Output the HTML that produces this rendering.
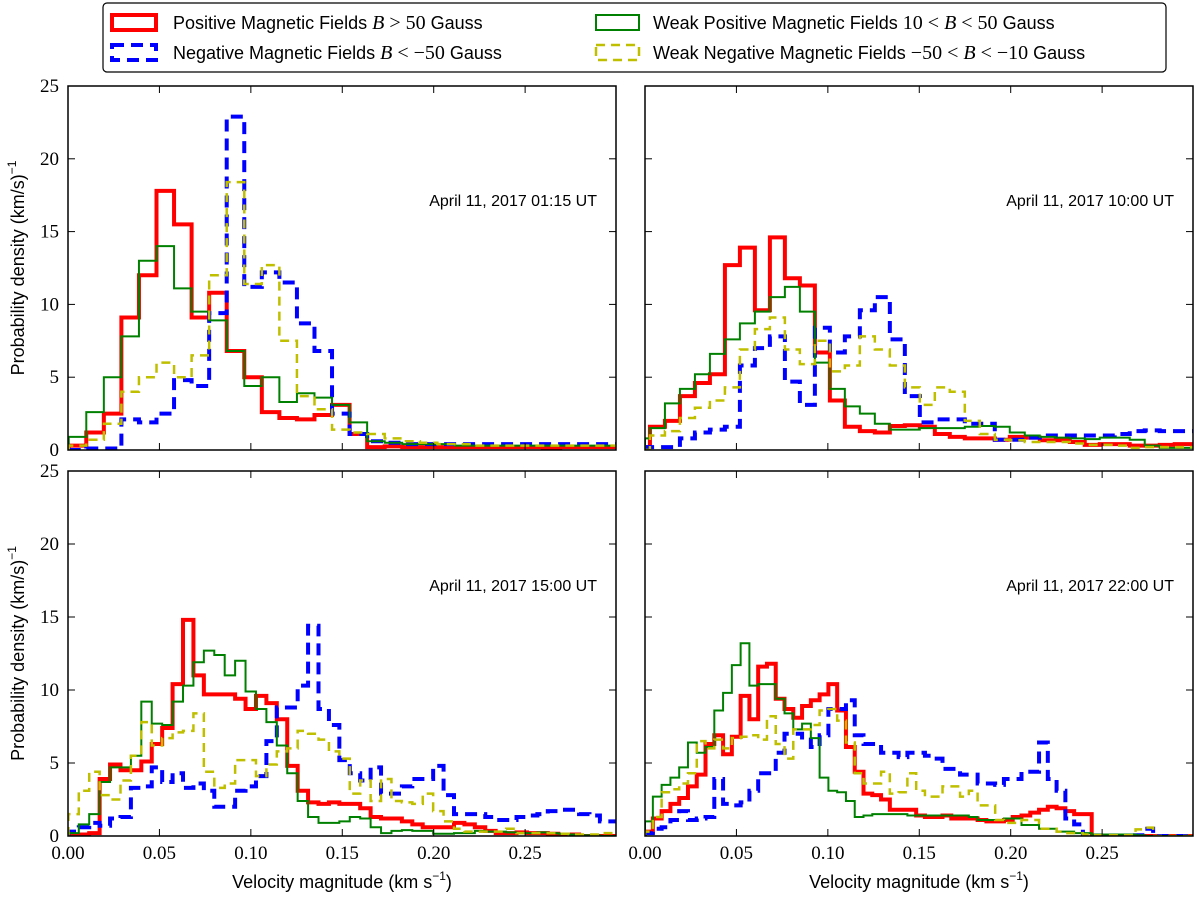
<!DOCTYPE html>
<html><head><meta charset="utf-8"><style>
html,body{margin:0;padding:0;background:#fff;}
svg{display:block;}
.tk{font-family:"Liberation Serif",serif;font-size:19px;fill:#000;}
.lab{font-family:"Liberation Sans",sans-serif;font-size:18px;fill:#000;}
.ann{font-family:"Liberation Sans",sans-serif;font-size:16px;fill:#000;}
.leg{font-family:"Liberation Sans",sans-serif;font-size:18px;fill:#000;}
.mi{font-family:"Liberation Serif",serif;font-style:italic;font-size:20px;}
.mr{font-family:"Liberation Serif",serif;font-size:20px;}
</style></head><body>
<svg id="fig" width="1200" height="903" viewBox="0 0 1200 903" xmlns="http://www.w3.org/2000/svg">
<rect x="0" y="0" width="1200" height="903" fill="#fff"/>
<g>
<rect x="103" y="3" width="1063" height="69" rx="4" fill="#fff" stroke="#000" stroke-width="1.2"/>
<g>
<rect x="112" y="15" width="44" height="15" fill="none" stroke="#ff0000" stroke-width="4"/>
<text x="173" y="29" class="leg">Positive Magnetic Fields <tspan class="mi">B</tspan><tspan class="mr"> &gt; 50 </tspan>Gauss</text></g>
<g>
<rect x="112" y="45" width="44" height="15" fill="none" stroke="#0000ff" stroke-width="4" stroke-dasharray="12,7"/>
<text x="173" y="59" class="leg">Negative Magnetic Fields <tspan class="mi">B</tspan><tspan class="mr"> &lt; −50 </tspan>Gauss</text></g>
<g>
<rect x="596" y="15" width="43" height="15" fill="none" stroke="#008000" stroke-width="2"/>
<text x="653" y="29" class="leg">Weak Positive Magnetic Fields <tspan class="mr">10 &lt; </tspan><tspan class="mi">B</tspan><tspan class="mr"> &lt; 50 </tspan>Gauss</text></g>
<g>
<rect x="596" y="45" width="43" height="15" fill="none" stroke="#bfbf00" stroke-width="2.5" stroke-dasharray="9,6"/>
<text x="653" y="59" class="leg">Weak Negative Magnetic Fields <tspan class="mr">−50 &lt; </tspan><tspan class="mi">B</tspan><tspan class="mr"> &lt; −10 </tspan>Gauss</text></g>
</g>
<g id="panels"></g>
</svg>
<script>
// ---- data (probability density per bin) ----
const panelTitles = ["April 11, 2017 01:15 UT","April 11, 2017 10:00 UT","April 11, 2017 15:00 UT","April 11, 2017 22:00 UT"];
const binStart = [0.0100, 0.0027, 0.0059, 0.0043];
const binWidth = [0.0096, 0.0082, 0.0057, 0.0048];
const xTicks = [0, 0.05, 0.10, 0.15, 0.20, 0.25];
const xTickLabels = ["0.00","0.05","0.10","0.15","0.20","0.25"];
const yTicks = [0, 5, 10, 15, 20, 25];
const yTickLabels = ["0","5","10","15","20","25"];

const p1Red = [0.3,1.2,2.5,9.1,12,17.8,15.5,9.1,10.8,6.8,5.0,2.6,2.2,2.1,2.4,3.1,1.1,0.2,0.25,0.2,0.2,0.2,0.2,0.2,0.2,0.2,0.2,0.15,0.2,0.2,0.2,0.2,0.2];
const p1Green = [0.9,2.6,5.0,7.8,13,14,11.1,9.5,8.9,6.8,4.4,5.0,3.3,3.9,3.6,3.1,1.9,0.6,0.5,0.4,0.4,0.4,0.3,0.3,0.3,0.3,0.3,0.3,0.3,0.3,0.3,0.3,0.3];
const p1Blue = [0,0.1,0.1,2.1,1.9,2.5,4.8,4.4,9.4,22.9,11.2,12.2,11.5,8.7,6.8,2.5,1.1,0.6,0.5,0.4,0.4,0.4,0.4,0.4,0.4,0.4,0.4,0.4,0.4,0.4,0.4,0.4,0.4];
const p1Yellow = [0.3,0.7,1.8,4.0,5.0,6.0,5.0,6.5,12.0,18.4,11.4,12.7,7.5,3.7,2.8,1.4,1.2,1.1,0.8,0.6,0.5,0.4,0.4,0.3,0.3,0.3,0.3,0.3,0.3,0.3,0.3,0.3,0.3];

const p2Red = [0.2,1.6,2.0,3.7,4.6,5.2,12.7,13.9,9.6,14.6,11.8,11.3,6.7,3.4,1.6,1.3,1.2,1.65,1.7,1.6,1.1,0.9,0.8,0.8,0.7,0.9,0.85,0.67,0.67,0.55,0.35,0.4,0.4,0.3,0.3,0.35,0.4,0.4];
const p2Green = [0.8,1.5,3.2,4.2,5.2,6.6,7.6,8.7,9.5,10.5,11.2,9.5,6.0,4.2,3.0,2.5,1.8,1.4,1.4,1.5,1.5,1.5,1.6,1.65,1.6,1.2,1.0,0.9,0.85,0.8,0.75,0.85,0.85,0.7,0.3,0.15,0.15,0.15];
const p2Blue = [0.2,0.2,0.2,0.8,1.2,1.4,1.6,5.8,7.0,7.8,4.7,3.1,8.4,6.7,7.8,9.6,10.5,7.6,3.7,1.9,2.1,2.1,1.8,1.8,0.7,0.7,0.85,1.0,1.0,1.0,1.0,1.0,1.1,1.3,1.35,1.3,1.3,1.3];
const p2Yellow = [0,1.0,1.3,2.2,2.9,3.4,4.3,6.9,8.3,9.1,6.9,5.9,7.5,5.4,5.8,7.8,6.9,5.8,4.3,3.1,4.3,4.0,2.0,1.1,0.7,0.67,0.55,0.55,0.55,0.45,0.35,0.35,0.3,0.15,0.2,0.2,0.2,0.2];

const p3Red = [0.1,0.1,0.2,3.9,4.9,4.5,4.5,5.1,6.3,7.4,10.4,14.8,11.0,9.7,9.7,9.7,9.4,8.7,9.6,9.1,8.0,4.8,3.1,2.3,2.2,2.3,2.2,2.2,1.9,1.3,1.2,1.2,1.0,0.8,0.6,0.6,0.6,0.9,0.8,0.6,0.35,0.2,0.2,0.25,0.2,0.2,0.15,0.1,0.1,0,0,0,0];
const p3Green = [0.2,0.8,1.5,3.7,4.7,4.7,5.5,9.2,7.7,7.6,9.2,10.3,11.9,12.7,12.4,11.0,12.0,9.9,8.7,7.8,6.2,4.3,2.4,1.3,0.9,0.9,1.0,1.3,1.2,0.6,0.2,0.35,0.4,0.35,0.35,0.15,0.15,0.2,0.2,0.35,0.3,0.3,0.25,0.2,0.2,0.25,0.2,0.15,0.1,0.05,0.05,0,0];
const p3Blue = [0.3,0.6,0.9,0.7,1.2,1.3,3.3,3.4,4.7,3.7,4.3,3.3,3.6,3.1,2.0,2.0,3.1,3.4,4.1,6.5,8.8,8.8,10.3,14.4,8.7,7.6,5.2,4.3,3.8,4.7,2.9,2.9,3.4,3.9,3.9,4.8,2.8,1.5,1.5,1.5,1.3,1.1,1.1,1.3,1.4,1.5,1.7,1.8,1.8,1.5,1.4,1.0,1.0];
const p3Yellow = [1.5,3.1,4.4,2.8,2.5,3.8,5.5,7.8,6.2,6.7,7.1,7.2,8.4,4.4,3.3,3.6,5.2,5.2,4.1,4.9,5.8,6.0,7.2,7.0,6.6,5.8,5.3,2.9,3.8,2.4,3.9,2.4,2.3,2.2,2.9,1.7,1.0,0.5,0.3,0.3,0.3,0.3,0.5,0.2,0.2,0.2,0.2,0.15,0.1,0.1,0.1,0.2,0.2];

const p4Red = [0.3,1.2,1.7,2.2,2.6,3.4,4.2,6.3,6.9,5.6,6.8,9.6,8.0,11.6,11.8,9.4,8.7,8.1,8.9,9.3,9.7,10.4,8.6,6.1,4.4,2.9,2.8,2.5,1.8,1.8,1.8,1.4,1.3,1.3,1.4,1.2,1.2,1.2,1.1,1.0,1.0,1.1,1.3,1.4,1.6,1.8,2.0,1.9,1.7,1.5,1.5,0,0,0,0,0,0,0,0,0,0,0,0];
const p4Green = [1.0,2.7,3.5,4.0,4.7,6.4,5.7,6.1,8.6,9.8,11.7,13.2,10.3,10.4,10.4,9.4,8.4,7.3,7.7,6.7,4.0,3.1,3.0,2.4,1.3,1.4,1.5,1.5,1.5,1.5,1.4,1.4,1.4,1.4,1.4,1.4,1.4,1.3,1.1,1.1,1.1,1.2,1.2,0.75,0.75,0.5,0.5,0.3,0.3,0.2,0.2,0.1,0.1,0.1,0.1,0.1,0.05,0,0,0,0,0,0];
const p4Blue = [0.2,0.5,0.6,1.1,1.7,1.1,1.2,1.3,3.9,2.2,2.1,2.3,3.1,4.3,4.3,5.7,7.0,7.0,6.6,6.1,6.9,8.7,8.7,9.3,6.9,6.3,6.3,5.7,5.7,5.4,5.7,5.7,5.5,5.3,4.6,4.6,4.2,4.2,3.6,3.6,3.5,3.9,3.9,4.4,4.4,6.4,3.9,3.1,1.2,0.8,0,0,0,0,0,0.05,0.05,0.5,0,0,0,0,0];
const p4Yellow = [0.3,1.3,3.0,3.2,3.6,4.3,6.5,6.0,6.6,6.0,6.7,6.8,6.9,6.6,8.2,6.3,5.3,7.3,7.3,7.6,8.6,8.7,7.9,6.4,4.3,3.6,3.6,4.4,2.9,3.0,4.3,3.1,2.7,2.7,3.4,3.4,2.7,3.1,2.1,2.1,1.1,0.9,0.9,1.1,1.1,0.5,0.5,0.3,0.2,0.2,0.1,0.05,0.05,0.05,0.05,0.05,0.45,0.57,0,0,0,0,0];

const panelSeries = [
  [p1Red, p1Blue, p1Green, p1Yellow],
  [p2Red, p2Blue, p2Green, p2Yellow],
  [p3Red, p3Blue, p3Green, p3Yellow],
  [p4Red, p4Blue, p4Green, p4Yellow]
];
const seriesNames = ["positive","negative","weak-positive","weak-negative"];
const seriesStyle = [
  {c:"#ff0000", w:4, d:null},
  {c:"#0000ff", w:4, d:"12,7"},
  {c:"#008000", w:2, d:null},
  {c:"#bfbf00", w:2.5, d:"9,6"}
];
const XMIN = 0, XMAX = 0.2997, YMIN = 0, YMAX = 25;
const boxes = [
  {x:68, y:86, w:548, h:364},
  {x:645, y:86, w:548, h:364},
  {x:68, y:471, w:548, h:365},
  {x:645, y:471, w:548, h:365}
];
const NS = "http://www.w3.org/2000/svg";
const root = document.getElementById("panels");
function mk(tag, attrs, parent){
  const e = document.createElementNS(NS, tag);
  for (const k in attrs) e.setAttribute(k, attrs[k]);
  parent.appendChild(e);
  return e;
}
boxes.forEach((b, p) => {
  const sx = v => b.x + (v - XMIN) / (XMAX - XMIN) * b.w;
  const sy = v => b.y + b.h - (v - YMIN) / (YMAX - YMIN) * b.h;
  const g = mk("g", {}, root);
  
  
  const cp = mk("clipPath", {id: "clip" + p}, g);
  mk("rect", {x: b.x, y: b.y - 2, width: b.w, height: b.h + 2}, cp);
  const sg = mk("g", {"clip-path": "url(#clip" + p + ")"}, g);
  panelSeries[p].forEach((vals, s) => {
    const st = seriesStyle[s];
    let d = "";
    for (let k = 0; k < vals.length; k++) {
      const x0 = Math.max(0, binStart[p] + (k - 1) * binWidth[p]);
      const x1 = binStart[p] + k * binWidth[p];
      if (k === 0) d += "M" + sx(x0).toFixed(2) + "," + sy(0).toFixed(2);
      d += "L" + sx(x0).toFixed(2) + "," + sy(vals[k]).toFixed(2);
      d += "L" + sx(x1).toFixed(2) + "," + sy(vals[k]).toFixed(2);
      if (k === vals.length - 1) d += "L" + sx(x1).toFixed(2) + "," + sy(0).toFixed(2);
    }
    const path = mk("path", {d: d, fill: "none", stroke: st.c, "stroke-width": st.w, "stroke-linejoin": "miter"}, sg);
    if (st.d) path.setAttribute("stroke-dasharray", st.d);
    
    
  });
  const frame = mk("rect", {x: b.x, y: b.y, width: b.w, height: b.h, fill: "none", stroke: "#000", "stroke-width": 1.5}, g);
  
  
  xTicks.forEach((t, i) => {
    const x = sx(t);
    mk("line", {x1: x, y1: b.y + b.h, x2: x, y2: b.y + b.h - 7, stroke: "#000", "stroke-width": 1}, g);
    mk("line", {x1: x, y1: b.y, x2: x, y2: b.y + 7, stroke: "#000", "stroke-width": 1}, g);
    if (p >= 2) {
      const tl = mk("text", {x: x, y: b.y + b.h + 23, "text-anchor": "middle", class: "tk"}, g);
      tl.textContent = xTickLabels[i];
      
      
    }
  });
  yTicks.forEach((t, i) => {
    const y = sy(t);
    mk("line", {x1: b.x, y1: y, x2: b.x + 7, y2: y, stroke: "#000", "stroke-width": 1}, g);
    mk("line", {x1: b.x + b.w, y1: y, x2: b.x + b.w - 7, y2: y, stroke: "#000", "stroke-width": 1}, g);
    if (p % 2 === 0) {
      const tl = mk("text", {x: b.x - 9, y: y + 6, "text-anchor": "end", class: "tk"}, g);
      tl.textContent = yTickLabels[i];
      
      
    }
  });
  const an = mk("text", {x: b.x + b.w - 19, y: b.y + 120, "text-anchor": "end", class: "ann"}, g);
  an.textContent = panelTitles[p];
  
  
  if (p % 2 === 0) {
    const cy = b.y + b.h / 2;
    const yl = mk("text", {x: 24, y: cy, "text-anchor": "middle", class: "lab", transform: "rotate(-90 24 " + cy + ")"}, g);
    yl.innerHTML = 'Probability density (km/s)<tspan dy="-8" font-size="12">−1</tspan>';
    
    
  }
  if (p >= 2) {
    const xl = mk("text", {x: b.x + b.w / 2, y: b.y + b.h + 52, "text-anchor": "middle", class: "lab"}, g);
    xl.innerHTML = 'Velocity magnitude (km s<tspan dy="-8" font-size="12">−1</tspan><tspan dy="8">)</tspan>';
    
    
  }
});
</script>
</body></html>
